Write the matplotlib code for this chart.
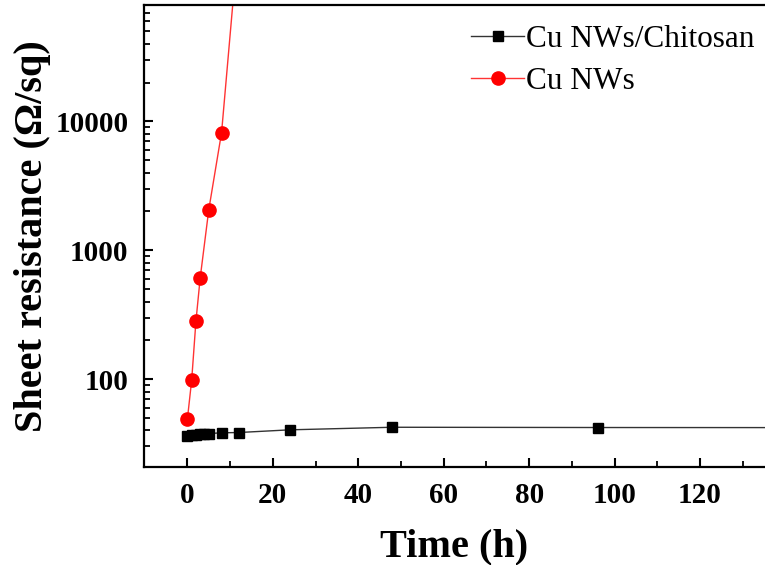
import numpy as np
import matplotlib
matplotlib.use("Agg")
import matplotlib.pyplot as plt
from matplotlib.ticker import LogLocator, FixedLocator, NullFormatter, FuncFormatter

plt.rcParams['font.family'] = ['Liberation Serif', 'DejaVu Serif']

# data
t_chitosan = [0, 1, 2, 3, 4, 5, 8, 12, 24, 48, 96, 168]
r_chitosan = [36.5, 36.8, 37.0, 37.3, 37.6, 37.8, 38.3, 38.5, 40.4, 42.3, 42.1, 42.0]
t_bare = [0, 1, 2, 3, 5, 8, 12]
r_bare = [49, 98, 282, 612, 2060, 8200, 270000]

fig = plt.figure(figsize=(7.65, 5.65), dpi=100)
ax = fig.add_axes([0.188, 0.1735, 0.812, 0.8175])

ax.plot(t_chitosan, r_chitosan, color='#333333', lw=1.0, marker='s', ms=7.5,
        mfc='black', mec='black', label='Cu NWs/Chitosan')
ax.plot(t_bare, r_bare, color='#ff3333', lw=1.0, marker='o', ms=9.5,
        mfc='red', mec='red', label='Cu NWs')

ax.set_yscale('log')
ax.set_xlim(-10.2, 135.2)
ax.set_ylim(20.8, 80000)

ax.yaxis.set_major_locator(FixedLocator([100, 1000, 10000]))
ax.yaxis.set_major_formatter(FuncFormatter(lambda v, p: '%d' % v))
ax.yaxis.set_minor_locator(LogLocator(base=10, subs=np.arange(2, 10), numticks=20))
ax.yaxis.set_minor_formatter(NullFormatter())
ax.set_xticks(np.arange(0, 121, 20))
ax.set_xticks(np.arange(10, 140, 20), minor=True)

for s in ['left', 'bottom', 'top']:
    ax.spines[s].set_linewidth(1.6)
ax.spines['right'].set_visible(False)

ax.tick_params(which='major', direction='in', length=6.5, width=1.5,
               labelsize=21, pad=11)
ax.tick_params(which='minor', direction='in', length=4, width=1.3)
ax.tick_params(top=False, right=False, which='both')
for lab in ax.get_xticklabels() + ax.get_yticklabels():
    lab.set_fontweight('bold')

ax.set_xlabel('Time (h)', fontsize=29, fontweight='bold', labelpad=14)
ax.set_ylabel('Sheet resistance (\u03a9/sq)', fontsize=29, fontweight='bold', labelpad=3)

ax.legend(loc='upper right', bbox_to_anchor=(1.018, 1.004), frameon=False,
          fontsize=22.5, handlelength=1.7, handletextpad=0.05, labelspacing=0.4,
          borderaxespad=0.3)

fig.savefig('out.png', dpi=100)
